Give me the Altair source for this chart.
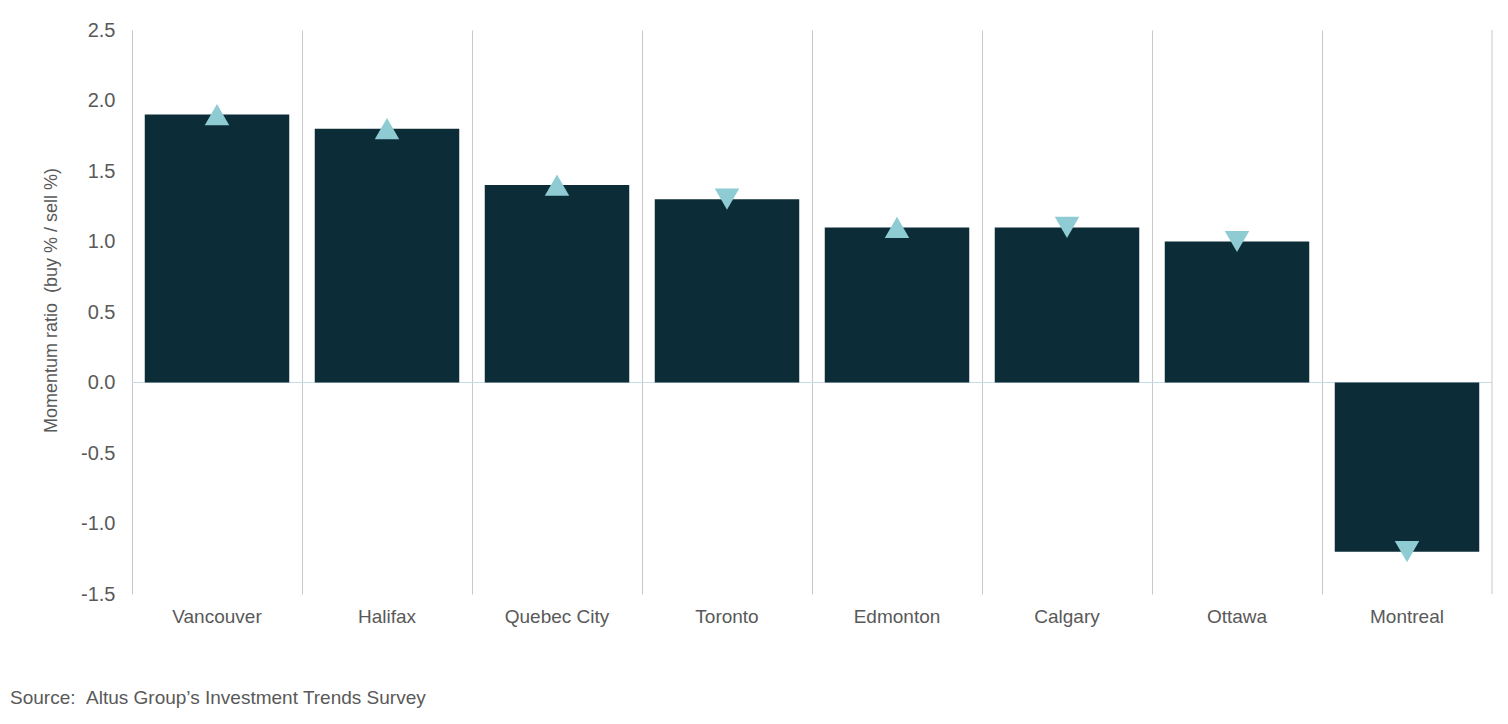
import altair as alt
import pandas as pd

cities = ["Vancouver", "Halifax", "Quebec City", "Toronto", "Edmonton", "Calgary", "Ottawa", "Montreal"]
ratios = [1.9, 1.8, 1.4, 1.3, 1.1, 1.1, 1.0, -1.2]
direction = ["up", "up", "up", "down", "up", "down", "down", "down"]
y_ticks = [-1.5, -1.0, -0.5, 0.0, 0.5, 1.0, 1.5, 2.0, 2.5]

df = pd.DataFrame({"city": cities, "ratio": ratios, "dir": direction})

W, H = 1360, 564
FONT = "Liberation Sans"
TXT = "#595959"

x_enc = alt.X("city:N", sort=cities, title=None,
              scale=alt.Scale(paddingInner=0, paddingOuter=0),
              axis=alt.Axis(grid=True, gridColor="#c8c8c8", gridWidth=1, bandPosition=0,
                            domain=False, ticks=False, labelAngle=0, labelPadding=13,
                            labelFont=FONT, labelFontSize=19, labelColor=TXT))
y_enc = alt.Y("ratio:Q", title="Momentum ratio\u00a0\u00a0(buy % / sell %)",
              scale=alt.Scale(domain=[-1.5, 2.5], nice=False, zero=False),
              axis=alt.Axis(values=y_ticks, grid=False, domain=False, ticks=False,
                            labelExpr="(datum.value < 0 ? '-' : '') + format(abs(datum.value), '.1f')",
                            labelPadding=17, labelFont=FONT, labelFontSize=20, labelColor=TXT,
                            titleFont=FONT, titleFontSize=18, titleFontWeight="normal",
                            titleColor=TXT, titlePadding=20, titleY=270))

bars = alt.Chart(df).mark_bar(color="#0c2c37", width=alt.RelativeBandSize(0.85)).encode(x=x_enc, y=y_enc)

zero = alt.Chart(pd.DataFrame({"z": [0.0]})).mark_rule(color="#c5dbe6", strokeWidth=1).encode(y="z:Q")

right_edge = alt.Chart(pd.DataFrame({"r": [0]})).mark_rule(color="#c8c8c8", strokeWidth=1).encode(
    x=alt.value(W), y=alt.value(0), y2=alt.value(H))

marks = alt.Chart(df).mark_point(filled=True, opacity=1, size=600, color="#8ecbd3", strokeWidth=0).encode(
    x=alt.X("city:N", sort=cities),
    y="ratio:Q",
    shape=alt.Shape("dir:N", scale=alt.Scale(domain=["up", "down"], range=["triangle-up", "triangle-down"]), legend=None),
)

chart = alt.layer(zero, bars, right_edge, marks).properties(
    width=W, height=H,
    background="white",
    autosize=alt.AutoSizeParams(type="none"),
    padding={"left": 124, "top": 22, "right": 8, "bottom": 122},
    title=alt.TitleParams(text="Source:\u00a0\u00a0Altus Group\u2019s Investment Trends Survey", orient="bottom",
                          anchor="start", frame="group", dx=-122, offset=63,
                          font=FONT, fontSize=19, fontWeight="normal", color=TXT),
).configure_view(strokeWidth=0, stroke="transparent").configure_axis(
    domain=False, ticks=False
)

chart.save("out.html", embed_options={"renderer": "svg", "actions": False})
